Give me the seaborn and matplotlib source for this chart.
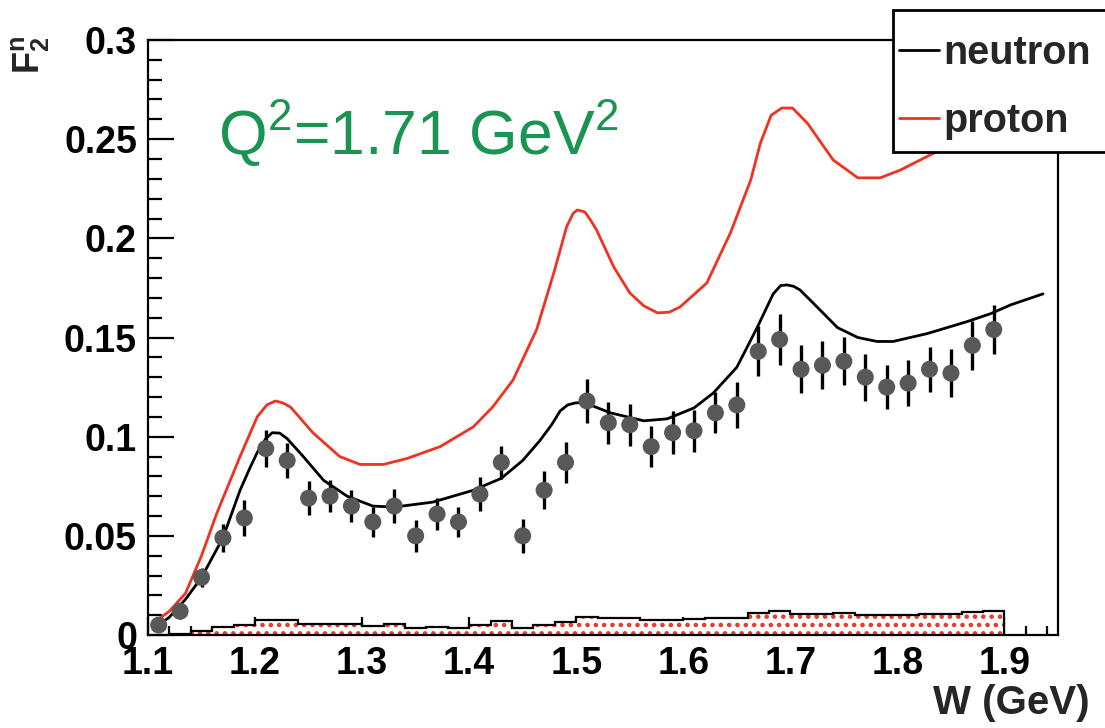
import numpy as np
import matplotlib
matplotlib.use("Agg")
import matplotlib.pyplot as plt
from matplotlib.ticker import MultipleLocator, FixedLocator
from matplotlib.lines import Line2D
from matplotlib.patches import Rectangle
import seaborn as sns

# ---------------- data ----------------
w_data = [1.11, 1.13, 1.15, 1.17, 1.19, 1.21, 1.23, 1.25, 1.27, 1.29,
          1.31, 1.33, 1.35, 1.37, 1.39, 1.41, 1.43, 1.45, 1.47, 1.49,
          1.51, 1.53, 1.55, 1.57, 1.59, 1.61, 1.63, 1.65, 1.67, 1.69,
          1.71, 1.73, 1.75, 1.77, 1.79, 1.81, 1.83, 1.85, 1.87, 1.89]
f2n_data = [0.005, 0.012, 0.029, 0.049, 0.059, 0.094, 0.088, 0.069, 0.070, 0.065,
            0.057, 0.065, 0.050, 0.061, 0.057, 0.071, 0.087, 0.050, 0.073, 0.087,
            0.118, 0.107, 0.106, 0.095, 0.102, 0.103, 0.112, 0.116, 0.143, 0.149,
            0.134, 0.136, 0.138, 0.130, 0.125, 0.127, 0.134, 0.132, 0.146, 0.154]
f2n_err = [0.003, 0.004, 0.005, 0.007, 0.009, 0.0095, 0.009, 0.0085, 0.008, 0.008,
           0.0076, 0.0084, 0.008, 0.0083, 0.0076, 0.0087, 0.0085, 0.0087, 0.0095, 0.0105,
           0.011, 0.0107, 0.0105, 0.0105, 0.0108, 0.0105, 0.0103, 0.0115, 0.0126, 0.013,
           0.012, 0.012, 0.012, 0.0118, 0.011, 0.0115, 0.0113, 0.012, 0.0123, 0.0125]
sys_err = [0.0, 0.0005, 0.0022, 0.004, 0.005, 0.0076, 0.0076, 0.0056, 0.0055, 0.0055,
           0.0045, 0.0054, 0.0037, 0.004, 0.0037, 0.0049, 0.0071, 0.0037, 0.005, 0.0066,
           0.0092, 0.0084, 0.0084, 0.0074, 0.0074, 0.0079, 0.0087, 0.0087, 0.0113, 0.012,
           0.0104, 0.0104, 0.0113, 0.0103, 0.0103, 0.0103, 0.0108, 0.0108, 0.0116, 0.0123]

w_neutron = [1.105, 1.12, 1.135, 1.15, 1.17, 1.186, 1.195, 1.202, 1.21, 1.216,
             1.223, 1.23, 1.245, 1.264, 1.286, 1.31, 1.33, 1.366, 1.404, 1.43,
             1.45, 1.466, 1.477, 1.485, 1.492, 1.499, 1.506, 1.513, 1.532, 1.563,
             1.585, 1.61, 1.628, 1.65, 1.669, 1.684, 1.691, 1.697, 1.703, 1.709,
             1.722, 1.744, 1.763, 1.781, 1.796, 1.828, 1.865, 1.887, 1.906, 1.936]
f2_neutron = [0.003, 0.009, 0.018, 0.029, 0.049, 0.073, 0.084, 0.092, 0.099, 0.102,
              0.1018, 0.099, 0.090, 0.078, 0.070, 0.065, 0.0645, 0.067, 0.073, 0.079,
              0.088, 0.098, 0.106, 0.113, 0.116, 0.117, 0.1172, 0.116, 0.112, 0.108,
              0.109, 0.1145, 0.122, 0.135, 0.155, 0.172, 0.1762, 0.1765, 0.1758, 0.174,
              0.167, 0.155, 0.150, 0.148, 0.148, 0.152, 0.158, 0.162, 0.1665, 0.172]

w_proton = [1.105, 1.12, 1.135, 1.15, 1.164, 1.186, 1.202, 1.211, 1.219, 1.226,
            1.233, 1.254, 1.279, 1.298, 1.32, 1.342, 1.373, 1.404, 1.422, 1.441,
            1.463, 1.479, 1.491, 1.497, 1.501, 1.508, 1.513, 1.519, 1.535, 1.55,
            1.563, 1.576, 1.587, 1.597, 1.622, 1.644, 1.663, 1.672, 1.682, 1.692,
            1.702, 1.716, 1.74, 1.763, 1.784, 1.803, 1.834, 1.87, 1.91, 1.95]
f2_proton = [0.006, 0.012, 0.021, 0.040, 0.061, 0.090, 0.110, 0.116, 0.118, 0.117,
             0.115, 0.102, 0.090, 0.086, 0.086, 0.089, 0.095, 0.105, 0.115, 0.1286,
             0.154, 0.1825, 0.2058, 0.2125, 0.2143, 0.2133, 0.2095, 0.2042, 0.1856, 0.1725,
             0.166, 0.1624, 0.1628, 0.1654, 0.1775, 0.2027, 0.2294, 0.248, 0.262, 0.2657,
             0.2657, 0.258, 0.2395, 0.2305, 0.2305, 0.2345, 0.243, 0.250, 0.256, 0.262]

x_ticks = [1.1, 1.2, 1.3, 1.4, 1.5, 1.6, 1.7, 1.8, 1.9]
x_labels = ["1.1", "1.2", "1.3", "1.4", "1.5", "1.6", "1.7", "1.8", "1.9"]
y_ticks = [0.0, 0.05, 0.1, 0.15, 0.2, 0.25, 0.3]
y_labels = ["0", "0.05", "0.1", "0.15", "0.2", "0.25", "0.3"]

# ---------------- style ----------------
sns.set_theme(style="ticks")
plt.rcParams["font.family"] = ["Liberation Sans", "DejaVu Sans"]
plt.rcParams["font.weight"] = "bold"
plt.rcParams["mathtext.fontset"] = "custom"
plt.rcParams["mathtext.rm"] = "Liberation Sans:weight=normal"
plt.rcParams["mathtext.bf"] = "Liberation Sans:weight=bold"
plt.rcParams["mathtext.it"] = "Liberation Sans:weight=bold"
plt.rcParams["hatch.linewidth"] = 2.0

RED = "#ee3322"

fig = plt.figure(figsize=(11.05, 7.28), dpi=100)
ax = fig.add_axes([148 / 1105, 1 - 635 / 728, 910 / 1105, 595 / 728])

# systematic band (hatched bars + black step outline)
edges = np.round(np.arange(1.10, 1.9001, 0.02), 3)
ax.bar(w_data, sys_err, width=0.02, align="center", facecolor="white",
       edgecolor=RED, hatch="..", linewidth=0, zorder=1)
ax.stairs(sys_err[1:], edges[1:], baseline=0, fill=False, color="black",
          lw=1.6, zorder=2)

# model curves
sns.lineplot(x=w_proton, y=f2_proton, color=RED, lw=2.0, sort=False,
             estimator=None, ax=ax, zorder=3)
sns.lineplot(x=w_neutron, y=f2_neutron, color="black", lw=2.0, sort=False,
             estimator=None, ax=ax, zorder=4)

# data points
ax.errorbar(w_data, f2n_data, yerr=f2n_err, fmt="none", ecolor="black",
            elinewidth=2.4, capsize=0, zorder=5)
sns.scatterplot(x=w_data, y=f2n_data, color="#585858", s=150, edgecolor="none",
                ax=ax, zorder=6)

# axes
ax.set_xlim(1.1, 1.95)
ax.set_ylim(0, 0.3)
ax.xaxis.set_major_locator(FixedLocator(x_ticks))
ax.set_xticklabels(x_labels)
ax.yaxis.set_major_locator(FixedLocator(y_ticks))
ax.set_yticklabels(y_labels)
ax.xaxis.set_minor_locator(MultipleLocator(0.02))
ax.yaxis.set_minor_locator(MultipleLocator(0.01))
ax.tick_params(axis="both", which="both", direction="in", colors="black",
               top=False, right=False, width=1.6)
ax.tick_params(axis="y", which="major", length=19, pad=8, labelsize=27)
ax.tick_params(axis="y", which="minor", length=10)
ax.tick_params(axis="x", which="major", length=13, pad=8, labelsize=27)
ax.tick_params(axis="x", which="minor", length=6.5)
for lab in ax.get_xticklabels() + ax.get_yticklabels():
    lab.set_fontweight("bold")
for s in ax.spines.values():
    s.set_linewidth(1.6)
    s.set_color("black")
ax.set_xlabel("")
ax.set_ylabel("")

fig.text(1090 / 1105, 1 - 703 / 728, "W (GeV)", ha="right", va="center",
         fontsize=29, fontweight="bold")
fig.text(30 / 1105, 1 - 36 / 728, r"$\mathbf{F}^{\mathbf{n}}_{\mathbf{2}}$",
         rotation=90, ha="center", va="top", fontsize=26)

fig.text(218 / 1105, 1 - 155 / 728, r"Q$^{\mathrm{2}}$=1.71 GeV$^{\mathrm{2}}$",
         ha="left", va="baseline", fontsize=45, fontweight="normal",
         color="#1a9452")

# legend: white box running off the right edge, entries inside
box = Rectangle((893 / 1105, 1 - 152 / 728), 230 / 1105, 142 / 728,
                transform=fig.transFigure, facecolor="white", edgecolor="black",
                linewidth=2.0, zorder=3)
fig.patches.append(box)
handles = [Line2D([], [], color="black", lw=2.0),
           Line2D([], [], color=RED, lw=2.0)]
leg = fig.legend(handles, ["neutron", "proton"], loc="center left",
                 bbox_to_anchor=(899 / 1105, 1 - 87 / 728),
                 borderaxespad=0, borderpad=0, frameon=False,
                 handlelength=1.0, handletextpad=0.12, labelspacing=0.75,
                 prop={"size": 28.5, "weight": "bold"})
leg.set_zorder(4)

fig.savefig("out.png", dpi=100)
